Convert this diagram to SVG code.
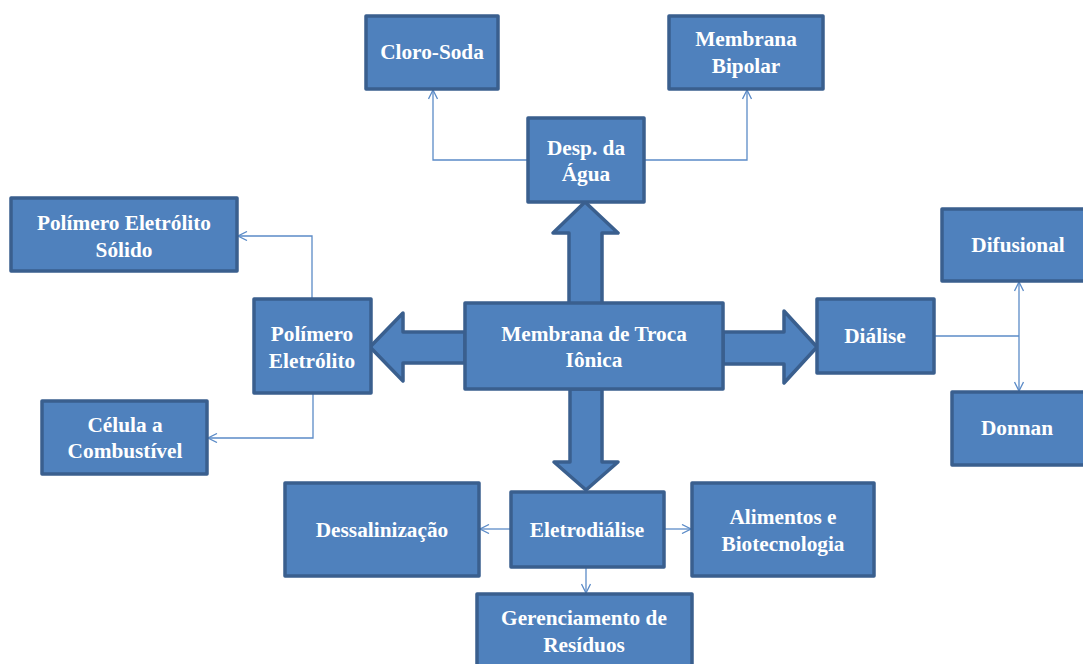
<svg xmlns="http://www.w3.org/2000/svg" width="1083" height="664" viewBox="0 0 1083 664">
<style>
.box{fill:#4F81BD;stroke:#3A5F8E;stroke-width:3.5;stroke-linejoin:round}
.big{fill:#4F81BD;stroke:#3A5F8E;stroke-width:3.5;stroke-linejoin:round}
.lbl{font-family:"Liberation Serif","Times New Roman",serif;font-weight:bold;font-size:21.3px;fill:#FFFFFF;text-anchor:middle}
.con{fill:none;stroke:#5B8BC7;stroke-width:1.3}
</style>
<defs>
<marker id="open" viewBox="0 0 10 10" refX="10" refY="5" markerWidth="10" markerHeight="10" markerUnits="userSpaceOnUse" orient="auto-start-reverse">
<path d="M1,0.5 L10,5 L1,9.5" fill="none" stroke="#5B8BC7" stroke-width="1.3"/>
</marker>
</defs>
<rect width="1083" height="664" fill="#FFFFFF"/>
<g id="connectors">
<path class="con" d="M528,160 H433 V90" marker-end="url(#open)"/>
<path class="con" d="M644,160 H747 V90" marker-end="url(#open)"/>
<path class="con" d="M312,299 V236 H238" marker-end="url(#open)"/>
<path class="con" d="M313,393 V438 H208" marker-end="url(#open)"/>
<path class="con" d="M934,336 H1019"/>
<path class="con" d="M1019,282 V391" marker-start="url(#open)" marker-end="url(#open)"/>
<path class="con" d="M511,529 H480" marker-end="url(#open)"/>
<path class="con" d="M664,529 H691" marker-end="url(#open)"/>
<path class="con" d="M586,567 V593" marker-end="url(#open)"/>
</g>
<g id="big-arrows">
<polygon class="big" points="569,304 569,233 553,233 585,202 618,233 602,233 602,304"/>
<polygon class="big" points="465,332 403,332 403,313 370,347 403,381 403,363 465,363"/>
<polygon class="big" points="723,332 784,332 784,311 817,347 784,383 784,364 723,364"/>
<polygon class="big" points="570,389 570,462 554,462 586,490 618,462 602,462 602,389"/>
</g>
<g id="n-cloro"><rect class="box" x="366" y="16" width="132" height="73"/><text class="lbl" x="432" y="59">Cloro-Soda</text></g>
<g id="n-bipolar"><rect class="box" x="669" y="16" width="154" height="73"/><text class="lbl" x="746" y="46">Membrana</text><text class="lbl" x="746" y="73">Bipolar</text></g>
<g id="n-desp"><rect class="box" x="528" y="118" width="116" height="84"/><text class="lbl" x="586" y="155">Desp. da</text><text class="lbl" x="586" y="181">Água</text></g>
<g id="n-pes"><rect class="box" x="11" y="198" width="226" height="73"/><text class="lbl" x="124" y="230">Polímero Eletrólito</text><text class="lbl" x="124" y="257">Sólido</text></g>
<g id="n-pe"><rect class="box" x="254" y="299" width="117" height="94"/><text class="lbl" x="312" y="341">Polímero</text><text class="lbl" x="312" y="368">Eletrólito</text></g>
<g id="n-celula"><rect class="box" x="42" y="401" width="165" height="73"/><text class="lbl" x="125" y="432">Célula a</text><text class="lbl" x="125" y="458">Combustível</text></g>
<g id="n-mti"><rect class="box" x="465" y="303" width="258" height="86"/><text class="lbl" x="594" y="341">Membrana de Troca</text><text class="lbl" x="594" y="367">Iônica</text></g>
<g id="n-dialise"><rect class="box" x="817" y="299" width="117" height="74"/><text class="lbl" x="875" y="343">Diálise</text></g>
<g id="n-difusional"><rect class="box" x="942" y="209" width="150" height="72"/><text class="lbl" x="1018" y="252">Difusional</text></g>
<g id="n-donnan"><rect class="box" x="952" y="392" width="140" height="73"/><text class="lbl" x="1017" y="435">Donnan</text></g>
<g id="n-dessal"><rect class="box" x="285" y="483" width="194" height="93"/><text class="lbl" x="382" y="537">Dessalinização</text></g>
<g id="n-eletro"><rect class="box" x="511" y="492" width="153" height="75"/><text class="lbl" x="587" y="537">Eletrodiálise</text></g>
<g id="n-alimentos"><rect class="box" x="692" y="483" width="182" height="93"/><text class="lbl" x="783" y="524">Alimentos e</text><text class="lbl" x="783" y="551">Biotecnologia</text></g>
<g id="n-geren"><rect class="box" x="477" y="594" width="215" height="80"/><text class="lbl" x="584" y="625">Gerenciamento de</text><text class="lbl" x="584" y="652">Resíduos</text></g>
</svg>
